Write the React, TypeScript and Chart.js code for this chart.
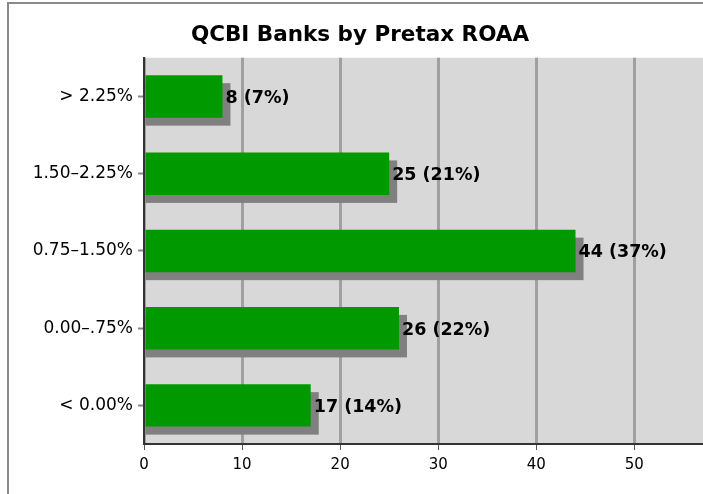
import React, { useEffect, useRef } from "react";
import { Chart, registerables } from "chart.js";

Chart.register(...registerables);

const categories = ["> 2.25%", "1.50–2.25%", "0.75–1.50%", "0.00–.75%", "< 0.00%"];
const counts = [8, 25, 44, 26, 17];
const percents = [7, 21, 37, 22, 14];
const xTicks = [0, 10, 20, 30, 40, 50];
const title = "QCBI Banks by Pretax ROAA";

const FONT = "'DejaVu Sans', sans-serif";

const framePlugin = {
  id: "frame",
  beforeDraw(chart: any) {
    const { ctx, chartArea } = chart;
    ctx.save();
    ctx.fillStyle = "#ffffff";
    ctx.fillRect(0, 0, chart.width, chart.height);
    ctx.strokeStyle = "#8a8a8a";
    ctx.lineWidth = 2;
    ctx.beginPath();
    ctx.moveTo(8, chart.height + 5);
    ctx.lineTo(8, 3);
    ctx.lineTo(chart.width + 5, 3);
    ctx.stroke();
    ctx.fillStyle = "#d8d8d8";
    ctx.fillRect(chartArea.left, chartArea.top, chartArea.right - chartArea.left, chartArea.bottom - chartArea.top);
    ctx.restore();
  },
};

const shadowPlugin = {
  id: "barShadow",
  beforeDatasetsDraw(chart: any) {
    const { ctx } = chart;
    const meta = chart.getDatasetMeta(0);
    ctx.save();
    ctx.fillStyle = "#808080";
    meta.data.forEach((el: any) => {
      const h = el.height;
      const off = 8;
      ctx.fillRect(el.base, el.y - h / 2 + off, el.x - el.base + off, h);
    });
    ctx.restore();
  },
  afterDatasetsDraw(chart: any) {
    const { ctx } = chart;
    const meta = chart.getDatasetMeta(0);
    ctx.save();
    ctx.fillStyle = "#000000";
    ctx.font = `bold 17.5px ${FONT}`;
    ctx.textBaseline = "middle";
    ctx.textAlign = "left";
    meta.data.forEach((el: any, i: number) => {
      ctx.fillText(`${counts[i]} (${percents[i]}%)`, el.x + 3, el.y + 2);
    });
    ctx.restore();
  },
};

export default function App() {
  const ref = useRef<HTMLCanvasElement>(null);
  useEffect(() => {
    if (!ref.current) return;
    const chart = new Chart(ref.current, {
      type: "bar",
      data: {
        labels: categories,
        datasets: [
          {
            data: counts,
            backgroundColor: "#009900",
            borderWidth: 0,
            categoryPercentage: 0.55,
            barPercentage: 1,
          },
        ],
      },
      options: {
        indexAxis: "y",
        animation: false,
        responsive: false,
        maintainAspectRatio: false,
        layout: { padding: { left: 17, right: 0, top: 0, bottom: 0 } },
        plugins: {
          legend: { display: false },
          tooltip: { enabled: false },
          title: {
            display: true,
            text: title,
            color: "#000",
            font: { family: FONT, size: 21.5, weight: "bold", lineHeight: 1.2 },
            padding: { top: 23, bottom: 9 },
          },
        },
        scales: {
          x: {
            min: 0,
            max: 57,
            afterBuildTicks(scale: any) {
              scale.ticks = xTicks.map((v) => ({ value: v }));
            },
            afterFit(scale: any) {
              scale.height = 50;
            },
            grid: {
              color: "#a0a0a0",
              lineWidth: 3,
              drawTicks: true,
              tickLength: 6,
              tickColor: "#555",
              tickWidth: 1,
            },
            border: { color: "#333", width: 2 },
            ticks: {
              color: "#000",
              font: { family: FONT, size: 15 },
              padding: 6,
              maxRotation: 0,
            },
          },
          y: {
            afterFit(scale: any) {
              scale.width = 127;
            },
            grid: {
              display: true,
              drawOnChartArea: false,
              drawTicks: true,
              offset: false,
              tickLength: 6,
              tickColor: "#888",
              tickWidth: 2,
            },
            border: { color: "#333", width: 2 },
            ticks: {
              color: "#000",
              font: { family: FONT, size: 17 },
              padding: 5,
            },
          },
        },
      },
      plugins: [framePlugin, shadowPlugin],
    });
    return () => chart.destroy();
  }, []);
  return (
    <div style={{ position: "absolute", left: 0, top: 0, width: 703, height: 494 }}>
      <canvas ref={ref} width={703} height={494} style={{ width: 703, height: 494, display: "block" }} />
    </div>
  );
}
